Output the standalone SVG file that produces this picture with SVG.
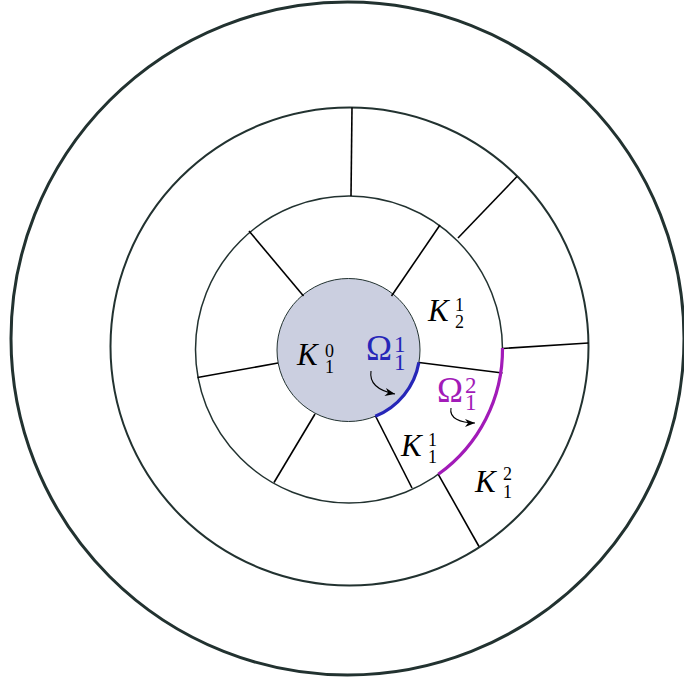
<svg xmlns="http://www.w3.org/2000/svg" width="684" height="684" viewBox="0 0 684 684">
<defs>
<style>
.ring{fill:none;stroke:#223230}
.spoke{stroke:#000;stroke-width:1.6;fill:none}
.k{font-family:"Liberation Serif",serif;fill:#000}
.ki{font-style:italic;font-size:31px}
.ks{font-size:18px}
.om{font-family:"Liberation Serif",serif}
.arr{fill:none;stroke:#000;stroke-width:1.1}
</style>
<marker id="ah" markerUnits="userSpaceOnUse" markerWidth="12" markerHeight="10" refX="10" refY="5" orient="auto">
<path d="M0,1 L10,5 L0,9 L3,5 z" fill="#000"/>
</marker>
</defs>
<g id="outer-circle"><circle class="ring" cx="347.5" cy="338.5" r="336.5" stroke-width="3"/></g>
<g id="middle-circle"><circle class="ring" cx="349.5" cy="346.5" r="239" stroke-width="2"/></g>
<g id="inner-ring"><circle class="ring" cx="349" cy="349.5" r="153.5" stroke-width="1.5"/></g>
<g id="K10"><circle cx="348.5" cy="350" r="71.5" fill="#cbcfe0" stroke="#223230" stroke-width="1"/></g>
<g id="connectors">
<line class="spoke" x1="249" y1="231" x2="303.5" y2="296"/>
<line class="spoke" x1="440" y1="225" x2="391.5" y2="296"/>
<line class="spoke" x1="419" y1="362.5" x2="502.5" y2="373"/>
<line class="spoke" x1="375.5" y1="416" x2="412" y2="488"/>
<line class="spoke" x1="315" y1="414" x2="274" y2="482.5"/>
<line class="spoke" x1="278" y1="363" x2="197.5" y2="377.5"/>
<line class="spoke" x1="352" y1="107.5" x2="351" y2="196"/>
<line class="spoke" x1="517" y1="176.5" x2="458" y2="238"/>
<line class="spoke" x1="502.5" y1="348.5" x2="588.5" y2="343"/>
<line class="spoke" x1="438.3" y1="474.3" x2="479" y2="546.5"/>
<path class="arr" d="M371 371 C369 384,380 391,395 394" marker-end="url(#ah)"/>
<path class="arr" d="M451 408 C449 418,460 423,475 423" marker-end="url(#ah)"/>
</g>
<g id="omega11-arc"><path d="M418.9 362.4 A71.5 71.5 0 0 1 375.3 416.3" fill="none" stroke="#2626b8" stroke-width="3.2"/></g>
<g id="omega12-arc"><path d="M502.5 348 A153.5 153.5 0 0 1 438.3 474.3" fill="none" stroke="#a21bb8" stroke-width="3.2"/></g>
<g id="label-K10"><text class="k"><tspan class="ki" x="297" y="365">K</tspan><tspan class="ks" x="325" y="357">0</tspan><tspan class="ks" x="325" y="373">1</tspan></text></g>
<g id="label-O11"><text class="om" fill="#2626b8"><tspan x="366" y="360" font-size="35">Ω</tspan><tspan x="394" y="352" font-size="23">1</tspan><tspan x="394" y="370" font-size="23">1</tspan></text></g>
<g id="label-K21"><text class="k"><tspan class="ki" x="428" y="321">K</tspan><tspan class="ks" x="455" y="311">1</tspan><tspan class="ks" x="455" y="328">2</tspan></text></g>
<g id="label-O12"><text class="om" fill="#a21bb8"><tspan x="437" y="402" font-size="35">Ω</tspan><tspan x="465" y="393" font-size="23">2</tspan><tspan x="465" y="410" font-size="23">1</tspan></text></g>
<g id="label-K11"><text class="k"><tspan class="ki" x="401" y="456">K</tspan><tspan class="ks" x="428" y="446">1</tspan><tspan class="ks" x="428" y="463">1</tspan></text></g>
<g id="label-K12"><text class="k"><tspan class="ki" x="475" y="492">K</tspan><tspan class="ks" x="503" y="480">2</tspan><tspan class="ks" x="503" y="498">1</tspan></text></g>
</svg>
